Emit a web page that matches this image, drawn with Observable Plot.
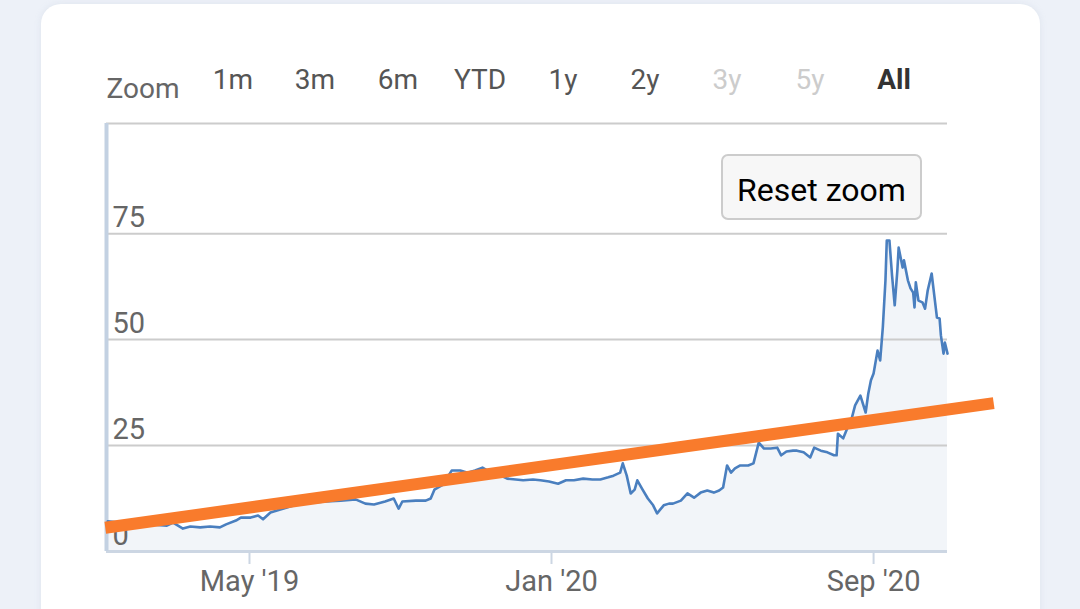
<!DOCTYPE html>
<html><head><meta charset="utf-8">
<script src="https://cdn.jsdelivr.net/npm/d3@7"></script>
<script src="https://cdn.jsdelivr.net/npm/@observablehq/plot@0.6"></script>
<style>
html,body{margin:0;padding:0;width:1080px;height:609px;overflow:hidden;background:#edf1f8;font-family:Roboto,"Noto Sans",sans-serif;}
#card{position:absolute;left:41px;top:4px;width:999px;height:660px;background:#fff;border-radius:20px;box-shadow:0 0 6px rgba(180,190,210,0.25);}
#chart{position:absolute;left:0;top:0;}
.lbl{position:absolute;font-size:28px;line-height:34px;white-space:nowrap;transform:translateX(-50%);}
#reset{position:absolute;left:721px;top:154px;width:201px;height:66px;box-sizing:border-box;border:2px solid #cccccc;border-radius:7px;background:#f7f7f7;font-size:32px;line-height:68px;text-align:center;color:#000;}
</style></head>
<body>
<div id="card"></div>
<div id="chart"></div>
<div id="ui"></div>
<script>
// ---- data ----
const dates = [
"2019-01-06","2019-01-24","2019-02-10","2019-02-23","2019-02-28","2019-03-08","2019-03-14","2019-03-22","2019-03-30","2019-04-07",
"2019-04-12","2019-04-20","2019-04-24","2019-05-02","2019-05-08","2019-05-12","2019-05-18","2019-05-26","2019-06-03","2019-06-11",
"2019-06-21","2019-07-02","2019-07-14","2019-07-26","2019-08-03","2019-08-10","2019-08-19","2019-08-26","2019-08-30","2019-09-02",
"2019-09-13","2019-09-21","2019-09-25","2019-09-28","2019-10-05","2019-10-12","2019-10-19","2019-10-25","2019-10-31","2019-11-06",
"2019-11-13","2019-11-21","2019-11-26","2019-12-03","2019-12-09","2019-12-17","2019-12-23","2019-12-30","2020-01-06","2020-01-12",
"2020-01-18","2020-01-25","2020-02-01","2020-02-07","2020-02-13","2020-02-17","2020-02-22","2020-02-24","2020-02-27","2020-03-01",
"2020-03-04","2020-03-06","2020-03-10","2020-03-14","2020-03-18","2020-03-21","2020-03-26","2020-03-30","2020-04-02","2020-04-08",
"2020-04-13","2020-04-18","2020-04-23","2020-04-28","2020-05-03","2020-05-07","2020-05-10","2020-05-13","2020-05-16","2020-05-19",
"2020-05-23","2020-05-29","2020-06-02","2020-06-06","2020-06-10","2020-06-15","2020-06-20","2020-06-23","2020-06-27","2020-07-02",
"2020-07-05","2020-07-10","2020-07-15","2020-07-18","2020-07-23","2020-07-28","2020-08-02","2020-08-04","2020-08-05","2020-08-09",
"2020-08-12","2020-08-15","2020-08-18","2020-08-22","2020-08-26","2020-08-28","2020-08-30","2020-09-01","2020-09-04","2020-09-06",
"2020-09-08","2020-09-10","2020-09-11","2020-09-13","2020-09-15","2020-09-17","2020-09-19","2020-09-20","2020-09-23","2020-09-24",
"2020-09-27","2020-09-29","2020-10-01","2020-10-02","2020-10-03","2020-10-05","2020-10-08","2020-10-10","2020-10-12","2020-10-15",
"2020-10-17","2020-10-19","2020-10-21","2020-10-22","2020-10-24","2020-10-25","2020-10-27"
];
const values = [
7.1,6.6,6.4,6.1,6.8,5.4,5.9,5.7,5.9,5.7,
6.4,7.3,8.0,8.0,8.5,7.6,9.2,9.9,10.6,11.3,
11.6,11.8,12.0,12.3,11.3,11.1,11.8,12.5,10.1,11.8,
12.0,12.0,12.5,14.6,15.8,19.1,19.1,18.6,19.1,19.8,
18.6,17.9,17.2,17.0,16.8,17.0,16.8,16.5,16.0,16.8,
16.8,17.2,17.0,17.0,17.5,17.9,18.6,20.8,17.9,13.7,
14.6,16.8,14.6,12.5,10.9,9.0,10.9,11.3,11.3,12.0,
13.7,12.7,13.9,14.4,13.9,14.4,15.1,20.3,18.6,19.6,
20.3,20.3,20.8,25.7,24.3,24.3,24.5,22.7,23.6,23.8,
23.8,23.4,22.2,24.5,23.8,23.4,22.7,22.7,27.8,26.7,
29.0,30.9,34.5,36.8,32.8,37.3,40.4,42.0,47.4,45.1,
52.9,64.0,73.4,73.4,65.1,58.1,66.3,71.7,67.0,68.7,
64.0,62.1,61.1,57.6,63.5,59.2,58.8,57.3,61.6,65.6,
60.4,55.2,55.0,51.0,46.7,49.3,46.7
];
const trendDates = ["2019-01-04","2020-12-01"];
const trendValues = [5.6, 35.0];
const yTicks = [0, 25, 50, 75];
const yMax = 101;
const xTicks = ["2019-05-01","2020-01-01","2020-09-01"];
// ordinal-style axis: breakpoints of the piecewise time scale
const xBreaks = ["2019-01-05","2020-01-01","2020-10-27"];
const zoomButtons = ["1m","3m","6m","YTD","1y","2y","3y","5y","All"];
const disabledButtons = ["3y","5y"];
const activeButton = "All";

// ---- build ----
const series = dates.map((d,i)=>({date:new Date(d), value:values[i]}));
const trend = trendDates.map((d,i)=>({date:new Date(d), value:trendValues[i]}));
const fmt = d3.utcFormat("%b '%y");

const chart = Plot.plot({
  width:1080, height:609,
  marginLeft:106, marginRight:133, marginTop:123, marginBottom:58,
  style:{background:"transparent", fontFamily:"Roboto, sans-serif", overflow:"visible"},
  x:{type:"utc", domain:xBreaks.map(d=>new Date(d)), range:[106,551,947]},
  y:{domain:[0,yMax], range:[551,123], axis:null},
  marks:[
    Plot.areaY(series,{x:"date", y:"value", fill:"#f2f5f9"}),
    Plot.ruleY(yTicks.filter(t=>t>0).concat([yMax]),{stroke:"#cccccc", strokeWidth:2}),
    Plot.ruleY([0],{stroke:"#ccd6e3", strokeWidth:3}),
    Plot.ruleX([new Date(xBreaks[0])],{y1:0, y2:yMax, stroke:"#c3d1e2", strokeWidth:4}),
    Plot.axisX({ticks:xTicks.map(d=>new Date(d)), tickFormat:fmt, tickSize:13, tickPadding:6,
      fontSize:29, color:"#666666", stroke:"#ccd6e3", strokeWidth:2, label:null}),
    Plot.text(yTicks,{y:d=>d, text:d=>String(d), frameAnchor:"left", textAnchor:"start",
      lineAnchor:"bottom", dx:6, dy:-7, fontSize:29, fill:"#666666"}),
    Plot.lineY(series,{x:"date", y:"value", stroke:"#4a7fbf", strokeWidth:2.6}),
    Plot.line(trend,{x:"date", y:"value", stroke:"#f97b2c", strokeWidth:12, strokeLinecap:"butt"})
  ]
});
document.getElementById("chart").appendChild(chart);

// ---- range selector UI ----
const ui = document.getElementById("ui");
const centers = [233,315,398,480,563,645,727,810,894];
const zl = document.createElement("div");
zl.className = "lbl"; zl.textContent = "Zoom";
zl.style.left = "143px"; zl.style.top = "72px"; zl.style.color = "#666666";
ui.appendChild(zl);
zoomButtons.forEach((b,i)=>{
  const el = document.createElement("div");
  el.className = "lbl"; el.textContent = b;
  el.style.left = centers[i]+"px"; el.style.top = "63px";
  el.style.color = disabledButtons.includes(b) ? "#cccccc" : (b===activeButton ? "#333333" : "#555555");
  if (b===activeButton) el.style.fontWeight = "bold";
  ui.appendChild(el);
});
const rz = document.createElement("div");
rz.id = "reset"; rz.textContent = "Reset zoom";
ui.appendChild(rz);
</script>
</body></html>
